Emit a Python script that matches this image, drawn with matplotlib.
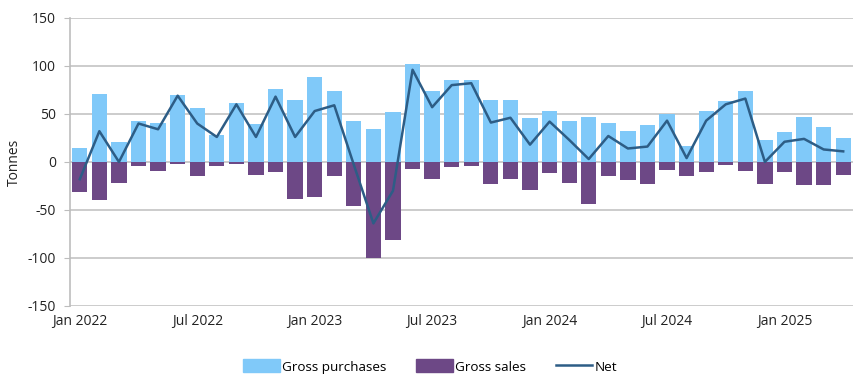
import numpy as np
import matplotlib.pyplot as plt
from matplotlib.lines import Line2D
from matplotlib.patches import Patch

plt.rcParams['font.family'] = ['Open Sans', 'DejaVu Sans']
plt.rcParams['axes.unicode_minus'] = False

# monthly data, Jan 2022 - Apr 2025 (tonnes)
months = ['Jan 2022', 'Feb 2022', 'Mar 2022', 'Apr 2022', 'May 2022', 'Jun 2022',
          'Jul 2022', 'Aug 2022', 'Sep 2022', 'Oct 2022', 'Nov 2022', 'Dec 2022',
          'Jan 2023', 'Feb 2023', 'Mar 2023', 'Apr 2023', 'May 2023', 'Jun 2023',
          'Jul 2023', 'Aug 2023', 'Sep 2023', 'Oct 2023', 'Nov 2023', 'Dec 2023',
          'Jan 2024', 'Feb 2024', 'Mar 2024', 'Apr 2024', 'May 2024', 'Jun 2024',
          'Jul 2024', 'Aug 2024', 'Sep 2024', 'Oct 2024', 'Nov 2024', 'Dec 2024',
          'Jan 2025', 'Feb 2025', 'Mar 2025', 'Apr 2025']
purchases = [14, 71, 21, 43, 41, 70, 56, 28, 61, 39, 76, 64,
             88, 74, 43, 34, 52, 102, 74, 85, 85, 64, 64, 46,
             53, 43, 47, 41, 32, 38, 50, 17, 53, 63, 74, 23,
             31, 47, 36, 25]
sales = [-31, -40, -22, -4, -9, -2, -15, -4, -2, -14, -10, -39,
         -37, -15, -46, -100, -81, -7, -18, -5, -4, -23, -18, -29,
         -12, -22, -44, -15, -19, -23, -8, -15, -11, -3, -9, -23,
         -11, -24, -24, -14]
net = [-18, 32, 0, 40, 34, 69, 40, 26, 60, 26, 68, 26,
       53, 59, -3, -64, -30, 96, 57, 80, 82, 41, 46, 18,
       42, 23, 3, 27, 14, 16, 43, 4, 43, 60, 66, 0,
       21, 24, 13, 11]

x = np.arange(len(months))

fig = plt.figure(figsize=(8.61, 3.81), dpi=100)
ax = fig.add_axes([0.0813, 0.197, 0.9094, 0.756])

ax.bar(x, purchases, width=0.78, color='#80c9f9', zorder=2)
ax.bar(x, sales, width=0.78, color='#6d4886', zorder=2)
ax.plot(x, net, color='#2d5d86', lw=1.8, zorder=3)

ax.set_xlim(-0.5, len(months) - 0.5)
ax.set_ylim(-150, 150)
ax.set_yticks(range(-150, 151, 50))
ax.grid(axis='y', color='#c4c4c4', lw=1.2, zorder=0)
ax.set_axisbelow(True)

ax.set_xticks(x[::6])
ax.set_xticklabels(months[::6])
ax.tick_params(axis='x', length=0, pad=6, labelsize=10, colors='#222222')
ax.tick_params(axis='y', length=4, color='#bdbdbd', labelsize=10, colors='#222222', pad=6)

for s in ['top', 'right', 'bottom']:
    ax.spines[s].set_visible(False)
ax.spines['left'].set_color('#bdbdbd')
ax.spines['left'].set_linewidth(1.2)

ax.set_ylabel('Tonnes', fontsize=10, color='#222222', labelpad=4)

handles = [Patch(color='#80c9f9', label='Gross purchases'),
           Patch(color='#6d4886', label='Gross sales'),
           Line2D([0], [0], color='#2d5d86', lw=1.8, label='Net')]
fig.legend(handles=handles, loc='center', bbox_to_anchor=(0.5, 0.038), ncol=3,
           frameon=False, fontsize=9.7, handlelength=2.7, handleheight=1.1,
           handletextpad=0.2, columnspacing=2.2)

fig.savefig('out.png', dpi=100)
